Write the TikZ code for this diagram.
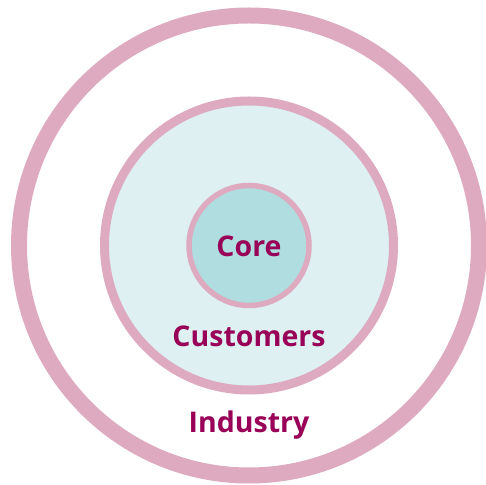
\documentclass[tikz,border=0pt]{standalone}
\usepackage{fontspec}
\setmainfont{Open Sans}
\usepackage{tikz}
\definecolor{ringpink}{HTML}{DDAAC0}
\definecolor{labelred}{HTML}{990057}
\definecolor{corefill}{HTML}{AFDDE0}
\definecolor{custfill}{HTML}{DEF0F2}

\begin{document}
\begin{tikzpicture}[x=1pt, y=1pt,
        ring/.style={draw=ringpink},
        lbl/.style={text=labelred, anchor=base, inner sep=0pt, font=\fontsize{28.5}{28.5}\selectfont\bfseries}]
        \useasboundingbox (0,0) rectangle (486,484);
        
        \coordinate (c) at (249,238.5);
        
        \draw[ring, line width=16] (c) circle (230);
        \draw[ring, line width=9, fill=custfill] (c) circle (144.5);
        \draw[ring, line width=5.5, fill=corefill] (c) circle (60);
        
        \node[lbl] (core) at (249,227) {Core};
        \node[lbl] (customers) at (249,137) {Customers};
        \node[lbl] (industry) at (249,52) {Industry};
    \end{tikzpicture}
\end{document}
